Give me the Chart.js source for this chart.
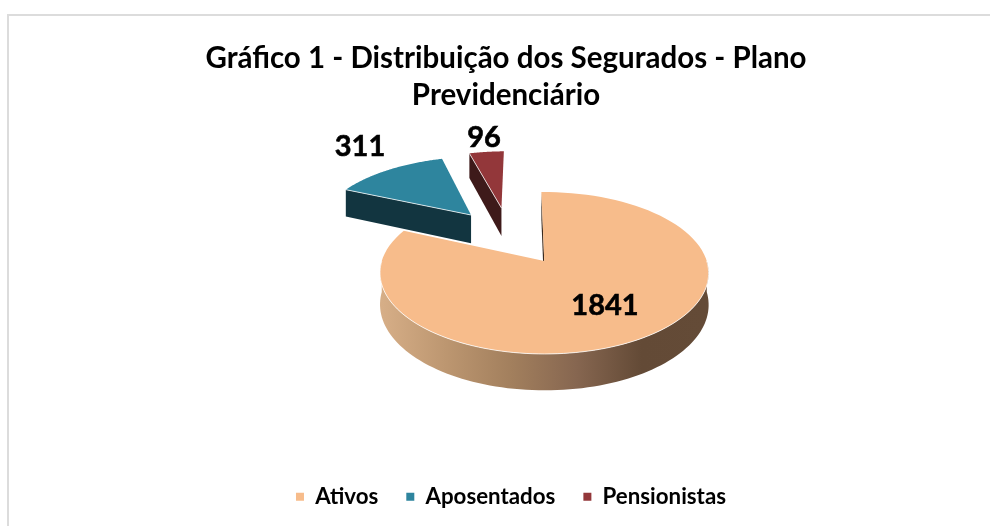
<!DOCTYPE html>
<html><head><meta charset="utf-8">
<style>html,body{margin:0;background:#fff}#box{position:absolute;left:0;top:0;width:990px;height:526px}
#frame{position:absolute;left:7px;top:14px;width:983px;height:512px;border-top:2px solid #dcdcdc;border-left:2px solid #dcdcdc;box-sizing:border-box}</style>
<script src="https://cdn.jsdelivr.net/npm/chart.js@4"></script>
</head><body><div id="frame"></div><div id="box"><canvas id="c" width="990" height="526"></canvas></div>
<script>
const categories = ["Ativos", "Aposentados", "Pensionistas"];
const values = [1841, 311, 96];
const colors = ["#F7BC8B", "#2E859E", "#93373A"];
const titleLines = ["Gráfico 1 - Distribuição dos Segurados - Plano", "Previdenciário"];

const view = {x0:541, y0:261, K:162.5, k:79.2, p:0.148, D:31};
const explode = [[0.02,0],[-0.471,-0.635],[-0.27,-0.742]];
const labelPos = [[605,306],[360,147],[484,138]];
const wallStops = ["#D6AE87","#BC9670","#A27F5D","#866650","#634A36","#644B37"];
const cutFill = ["#3a2a1e","#123540","#3E1A1A"];

function proj(u,v,z){const w=1-view.p*v;return [view.x0+view.K*u/w, view.y0+(view.k*v+view.D*z)/w];}

const pie3d = {
  id:'pie3d',
  afterLayout(chart){ chart.legend.left+=5; chart.legend.right+=5; },
  beforeDatasetsDraw(chart){
    const ctx=chart.ctx, arcs=chart.getDatasetMeta(0).data;
    const rim=(a,e,z)=>proj(Math.cos(a)+e[0],Math.sin(a)+e[1],z);
    const N=96;
    arcs.forEach((arc,i)=>{
      const e=explode[i], s=arc.startAngle, t=arc.endAngle;
      ctx.save();
      const c0=proj(e[0],e[1],0), c1=proj(e[0],e[1],1);
      // cut face at the start of the slice
      const p0=rim(s,e,0), p1=rim(s,e,1);
      ctx.beginPath();ctx.moveTo(c0[0],c0[1]);ctx.lineTo(p0[0],p0[1]);ctx.lineTo(p1[0],p1[1]);ctx.lineTo(c1[0],c1[1]);ctx.closePath();
      ctx.fillStyle=cutFill[i];ctx.fill();
      // outer wall: only the part of the rim facing the viewer
      const f0=Math.max(s,0), f1=Math.min(t,Math.PI);
      if(f1>f0){
        const g=ctx.createLinearGradient(rim(Math.PI,e,0)[0],0,rim(0,e,0)[0],0);
        wallStops.forEach((c,j)=>g.addColorStop(j/(wallStops.length-1),c));
        ctx.beginPath();
        for(let j=0;j<=N;j++){const q=rim(f0+(f1-f0)*j/N,e,0);j?ctx.lineTo(q[0],q[1]):ctx.moveTo(q[0],q[1]);}
        for(let j=N;j>=0;j--){const q=rim(f0+(f1-f0)*j/N,e,1);ctx.lineTo(q[0],q[1]);}
        ctx.closePath();ctx.fillStyle=g;ctx.fill();
      }
      // top face
      ctx.beginPath();ctx.moveTo(c0[0],c0[1]);
      for(let j=0;j<=N;j++){const q=rim(s+(t-s)*j/N,e,0);ctx.lineTo(q[0],q[1]);}
      ctx.closePath();ctx.fillStyle=arc.options.backgroundColor;ctx.fill();
      // bevel highlight
      ctx.strokeStyle='rgba(255,255,255,0.75)';ctx.lineWidth=1;
      ctx.beginPath();
      if(f1>f0){
        for(let j=0;j<=N;j++){const q=rim(f0+(f1-f0)*j/N,e,0);j?ctx.lineTo(q[0],q[1]):ctx.moveTo(q[0],q[1]);}
      }
      if(i>0){ctx.moveTo(p0[0],p0[1]);ctx.lineTo(c0[0],c0[1]);}
      ctx.stroke();
      ctx.restore();
    });
    ctx.save();
    ctx.fillStyle='#000';ctx.strokeStyle='#000';ctx.lineWidth=0.6;ctx.font='bold 29px Lato';ctx.textAlign='center';ctx.textBaseline='middle';
    values.forEach((v,i)=>{ctx.fillText(String(v),labelPos[i][0],labelPos[i][1]);ctx.strokeText(String(v),labelPos[i][0],labelPos[i][1]);});
    ctx.restore();
    return false;
  }
};

new Chart(document.getElementById('c'),{
  type:'pie',
  data:{labels:categories,datasets:[{data:values,backgroundColor:colors,borderWidth:0}]},
  plugins:[pie3d],
  options:{
    responsive:false,animation:false,rotation:-1,
    layout:{padding:{top:39.5,bottom:8,left:22,right:0}},
    plugins:{
      tooltip:{enabled:false},
      title:{display:true,text:titleLines,color:'#000',font:{family:'Lato',size:29.5,weight:'bold',lineHeight:1.254},padding:{top:0,bottom:0}},
      legend:{position:'bottom',labels:{color:'#000',font:{family:'Lato',size:22.3,weight:'bold'},usePointStyle:true,pointStyle:'rect',boxWidth:8,boxHeight:8,padding:28}}
    }
  }
});
</script></body></html>
